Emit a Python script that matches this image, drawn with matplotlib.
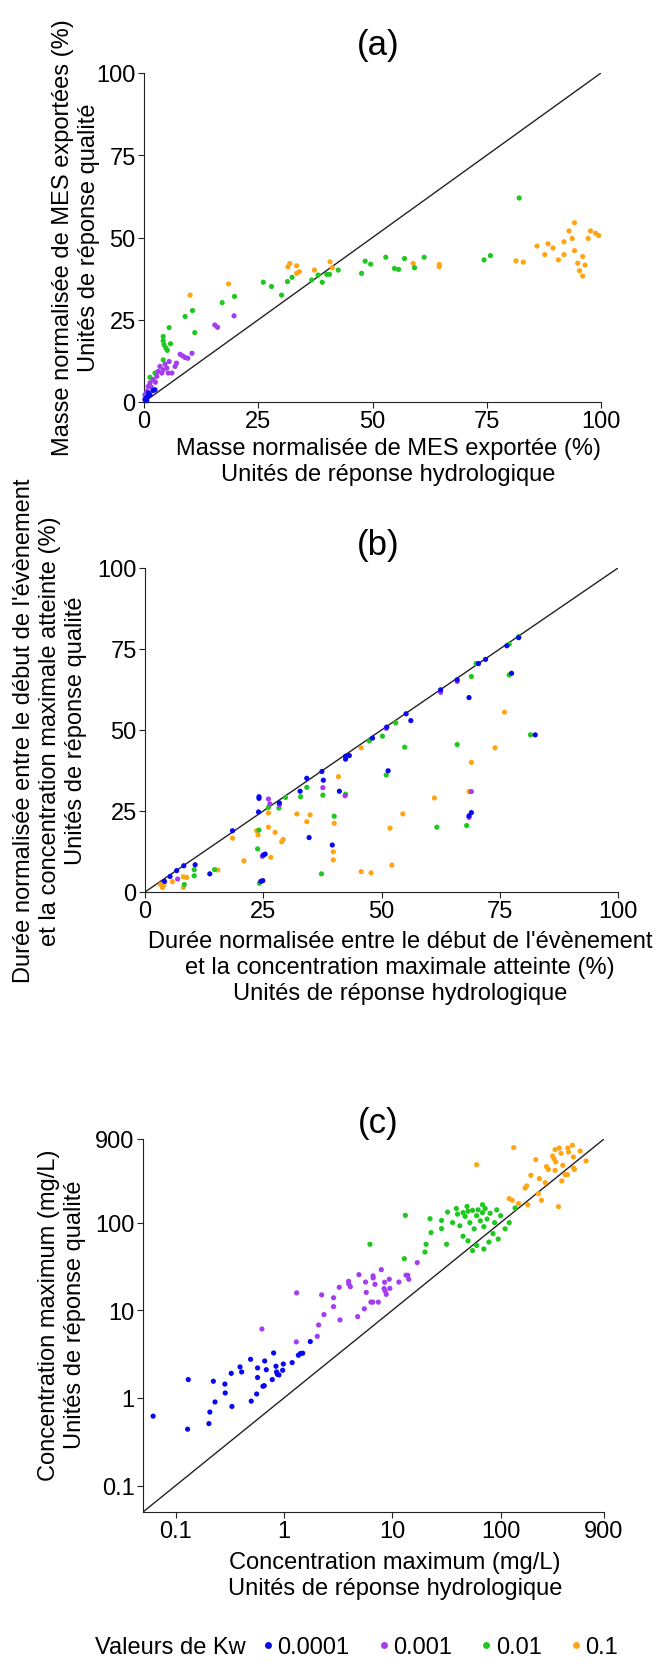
import numpy as np
import matplotlib
matplotlib.use("Agg")
import matplotlib.pyplot as plt
from matplotlib.lines import Line2D

plt.rcParams['font.family'] = ['Liberation Sans', 'DejaVu Sans']

# colours of the Kw classes
kw_labels = ['0.0001', '0.001', '0.01', '0.1']
kw_colors = ['#0808f0', '#a43cf0', '#1ec81e', '#ffa514']

# ---- panel (a): normalised exported mass (%)
a_blue_x = [0.2, 0.4, 0.9, 1.3, 2.0, 2.4, 0.6, 1.0]
a_blue_y = [0.7, 1.2, 1.7, 2.2, 3.5, 3.7, 0.4, 2.8]
a_purple_x = [0.2, 0.6, 0.9, 1.3, 2.0, 2.8, 3.1, 3.5, 3.9, 4.2, 4.6, 5.0, 5.3, 5.5,
              6.1, 6.8, 7.1, 7.9, 8.5, 9.0, 9.6, 10.5, 15.5, 16.1, 19.7, 1.6, 2.5]
a_purple_y = [2.2, 3.2, 4.7, 5.8, 6.8, 7.8, 9.3, 10.8, 8.8, 9.8, 11.5, 10.3, 8.8, 12.3,
              8.8, 10.8, 11.8, 14.5, 14.0, 13.5, 13.3, 14.8, 23.4, 22.7, 26.2, 4.5, 6.0]
a_green_x = [1.3, 2.4, 4.2, 4.2, 4.2, 4.4, 4.8, 5.1, 5.5, 5.8, 9.0, 10.6, 11.1, 17.1,
             19.8, 26.1, 27.9, 30.1, 31.4, 32.4, 36.7, 38.1, 39.0, 40.0, 40.6, 42.5,
             47.6, 48.4, 49.6, 52.9, 54.8, 55.7, 57.0, 59.2, 61.3, 74.4, 75.8, 82.1]
a_green_y = [7.5, 8.8, 12.8, 19.9, 18.6, 17.4, 16.4, 15.7, 22.6, 17.7, 26.0, 27.8, 21.1, 30.2,
             32.1, 36.4, 35.1, 32.5, 36.6, 37.9, 37.1, 38.6, 36.4, 38.8, 38.8, 40.1,
             39.1, 42.8, 41.9, 44.0, 40.6, 40.3, 43.6, 40.8, 44.0, 43.2, 44.5, 62.0]
a_orange_x = [10.1, 18.5, 31.5, 31.9, 33.4, 33.4, 34.0, 37.3, 40.7, 41.2, 58.9, 64.6, 64.6,
              81.4, 83.0, 86.0, 87.7, 88.4, 89.5, 90.7, 91.9, 91.9, 93.0, 93.7, 94.2, 94.2,
              94.9, 95.3, 96.0, 96.0, 96.5, 97.2, 97.7, 98.8, 99.5]
a_orange_y = [32.5, 35.9, 41.1, 42.1, 41.4, 39.1, 39.6, 40.1, 42.6, 40.8, 42.1, 41.8, 41.1,
              42.9, 42.5, 47.4, 44.8, 48.1, 46.8, 43.2, 48.7, 44.8, 52.0, 49.7, 46.0, 54.5,
              42.2, 39.9, 38.3, 44.2, 41.6, 49.7, 52.0, 51.3, 50.6]

# ---- panel (b): normalised time to peak concentration (%)
b_blue_x = [4.1, 5.3, 6.7, 8.2, 10.6, 13.7, 18.5, 24.0, 24.1, 24.1, 28.4, 32.8, 34.2, 34.7,
            37.4, 37.7, 39.6, 41.1, 42.4, 42.4, 43.2, 48.1, 51.1, 51.4, 55.2, 56.2, 62.5,
            24.5, 24.9, 25.4, 25.0, 66.0, 70.5, 72.0, 76.5, 79.0, 77.5, 82.5, 68.5, 68.5, 69.0]
b_blue_y = [3.3, 4.8, 6.6, 8.1, 8.4, 5.6, 18.9, 24.7, 29.4, 28.9, 27.5, 31.1, 35.1, 16.8,
            37.2, 34.5, 14.5, 31.1, 41.0, 41.9, 42.1, 47.5, 50.9, 37.4, 55.0, 52.9, 62.4,
            3.3, 3.5, 11.7, 11.4, 65.5, 70.5, 71.8, 76.0, 78.5, 67.5, 48.5, 60.0, 23.5, 24.5]
b_purple_x = [6.9, 26.1, 26.4, 28.4, 37.6, 42.3, 51.0, 62.5, 24.8, 66.0, 69.0, 68.5]
b_purple_y = [4.0, 28.7, 27.2, 26.9, 32.2, 29.7, 50.5, 61.6, 11.0, 65.0, 31.0, 23.0]
b_green_x = [8.3, 10.4, 10.4, 14.7, 23.8, 24.2, 24.1, 26.1, 28.3, 29.7, 32.9, 34.2, 37.3,
             37.6, 40.0, 42.4, 47.4, 50.2, 51.0, 53.0, 54.9, 61.7, 70.0, 77.0, 77.0, 69.0,
             66.0, 81.5, 68.0, 79.0]
b_green_y = [2.3, 6.9, 5.0, 6.9, 13.3, 2.7, 19.1, 26.1, 25.9, 29.2, 29.4, 32.3, 5.6,
             29.9, 23.4, 30.2, 46.6, 48.1, 36.1, 52.2, 44.7, 20.0, 70.5, 76.5, 67.0, 66.5,
             45.5, 48.5, 20.5, 78.8]
b_orange_x = [3.3, 3.7, 3.9, 4.2, 5.8, 8.1, 8.8, 8.1, 15.4, 18.5, 20.9, 23.6, 23.9, 26.1,
              26.1, 26.6, 27.5, 28.9, 29.2, 32.1, 34.2, 34.9, 39.8, 39.8, 40.0, 40.9, 45.7,
              45.7, 47.8, 51.8, 52.2, 54.5, 61.2, 76.0, 69.0, 74.0, 68.5]
b_orange_y = [2.3, 1.4, 2.0, 3.0, 3.2, 4.7, 4.5, 1.4, 6.8, 16.6, 9.6, 18.9, 17.6, 24.4,
              20.0, 10.7, 18.4, 15.5, 16.2, 24.1, 21.7, 23.8, 12.4, 9.9, 21.2, 35.6, 44.5,
              6.3, 5.9, 19.7, 8.3, 24.1, 29.0, 55.5, 40.0, 44.5, 31.0]

# ---- panel (c): maximum concentration (mg/L)
c_blue_x = [0.062, 0.131, 0.129, 0.203, 0.207, 0.231, 0.223, 0.285, 0.287, 0.326, 0.331,
            0.393, 0.407, 0.492, 0.499, 0.56, 0.571, 0.571, 0.64, 0.658, 0.664, 0.687,
            0.78, 0.803, 0.844, 0.855, 0.87, 0.9, 0.973, 0.986, 1.19, 1.36, 1.42, 1.49, 1.75]
c_blue_y = [0.62, 1.62, 0.44, 0.51, 0.69, 0.90, 1.55, 1.44, 1.14, 1.91, 0.80,
            2.26, 1.98, 2.76, 0.92, 1.11, 2.20, 1.71, 1.36, 1.38, 2.64, 2.10,
            1.62, 3.26, 2.30, 1.98, 1.86, 1.83, 2.07, 2.44, 2.53, 3.07, 3.21, 3.24, 4.40]
c_purple_x = [0.626, 1.31, 1.30, 2.03, 2.09, 2.23, 2.34, 2.87, 2.87, 3.24, 3.29, 3.95, 3.97,
              4.1, 4.79, 4.92, 5.52, 5.67, 5.75, 6.35, 6.6, 6.64, 6.66, 6.92, 7.43, 7.92,
              8.49, 8.4, 8.6, 8.8, 9.38, 9.5, 11.5, 13.4, 13.9, 14.2, 17.0]
c_purple_y = [6.12, 15.8, 4.36, 5.05, 6.80, 15.0, 8.93, 13.9, 11.0, 18.3, 7.76, 21.4, 20.0,
              18.6, 8.47, 25.5, 10.4, 21.0, 16.0, 12.4, 12.4, 24.7, 23.4, 19.8, 12.4, 29.1,
              20.9, 17.7, 16.6, 15.2, 22.6, 17.8, 21.0, 25.1, 25.1, 22.6, 35.0]
c_green_x = [6.22, 12.9, 13.2, 20.0, 20.5, 22.3, 22.8, 28.5, 28.5, 31.7, 32.4, 49, 68, 136, 39,
             36, 40, 42, 45, 47, 50, 52, 55, 57, 60, 62, 65, 68, 70, 72, 75, 78, 80, 85, 88,
             92, 95, 100, 110, 60, 55, 50, 70, 45, 120]
c_green_y = [56.6, 38.8, 121, 46.2, 56.6, 111, 77, 106, 85.5, 56.6, 132, 153, 160, 147, 145,
             100, 125, 92, 130, 118, 135, 100, 138, 85, 120, 140, 105, 130, 90, 145, 110, 60,
             128, 75, 100, 140, 65, 120, 85, 55, 48, 62, 50, 70, 100]
c_orange_x = [60.1, 132, 211, 318, 347, 417, 460, 423, 542, 361, 302, 311, 323, 470, 375, 265,
              276, 318, 470, 480, 615, 394, 414, 190, 228, 258, 367, 174, 168, 223, 120, 128,
              238, 146, 178, 342]
c_orange_y = [459, 718, 523, 681, 711, 711, 762, 640, 656, 618, 575, 537, 493, 561, 451, 435,
              405, 395, 421, 405, 505, 353, 353, 347, 318, 286, 299, 262, 248, 214, 188, 180,
              180, 165, 160, 152]

W, H = 665, 1674
FS = 17
fig = plt.figure(figsize=(W / 100, H / 100), dpi=100)


def px_axes(left, right, top, bottom):
    return fig.add_axes([left / W, 1 - bottom / H, (right - left) / W, (bottom - top) / H])


def style(ax):
    for s in ['top', 'right']:
        ax.spines[s].set_visible(False)
    for s in ['left', 'bottom']:
        ax.spines[s].set_linewidth(0.8)
        ax.spines[s].set_color('#222222')
    ax.tick_params(direction='out', length=4, width=0.8, labelsize=FS, pad=2, colors='#222222',
                   labelcolor='black')
    ax.minorticks_off()


def dots(ax, xs, ys):
    # orange first, blue on top
    for (x, y), c in reversed(list(zip(zip(xs, ys), kw_colors))):
        ax.scatter(x, y, s=14, color=c, edgecolors='none', zorder=3, clip_on=False)


ax_a = px_axes(144, 601, 74, 403)
ax_b = px_axes(145, 618, 569, 893)
ax_c = px_axes(143, 604, 1140, 1513)

lin_ticks = [0, 25, 50, 75, 100]
for ax in (ax_a, ax_b):
    ax.plot([0, 100], [0, 100], color='#222222', lw=1, zorder=2)
    ax.set_xlim(0, 100)
    ax.set_ylim(0, 100)
    ax.set_xticks(lin_ticks)
    ax.set_yticks(lin_ticks)
    style(ax)

dots(ax_a, [a_blue_x, a_purple_x, a_green_x, a_orange_x], [a_blue_y, a_purple_y, a_green_y, a_orange_y])
dots(ax_b, [b_blue_x, b_purple_x, b_green_x, b_orange_x], [b_blue_y, b_purple_y, b_green_y, b_orange_y])

log_ticks = [0.1, 1, 10, 100, 900]
log_labels = ['0.1', '1', '10', '100', '900']
ax_c.plot([0.05, 900], [0.05, 900], color='#222222', lw=1, zorder=2)
ax_c.set_xscale('log')
ax_c.set_yscale('log')
ax_c.set_xlim(0.05, 900)
ax_c.set_ylim(0.05, 900)
ax_c.set_xticks(log_ticks)
ax_c.set_xticklabels(log_labels)
ax_c.set_yticks(log_ticks)
ax_c.set_yticklabels(log_labels)
style(ax_c)
dots(ax_c, [c_blue_x, c_purple_x, c_green_x, c_orange_x], [c_blue_y, c_purple_y, c_green_y, c_orange_y])


def ftext(x, y, s, **kw):
    fig.text(x / W, 1 - y / H, s, ha='center', va='center', fontsize=FS,
             multialignment='center', linespacing=1.25, **kw)


# panel titles
for y, t in [(45, '(a)'), (545, '(b)'), (1124, '(c)')]:
    fig.text(378 / W, 1 - y / H, t, ha='center', va='center', fontsize=25)

# axis labels
ftext(388, 462, "Masse normalisée de MES exportée (%)\nUnités de réponse hydrologique")
ftext(76, 238, "Masse normalisée de MES exportées (%)\nUnités de réponse qualité", rotation=90)

ftext(400, 968, "Durée normalisée entre le début de l'évènement\n"
                "et la concentration maximale atteinte (%)\nUnités de réponse hydrologique")
ftext(50, 731, "Durée normalisée entre le début de l'évènement\n"
               "et la concentration maximale atteinte (%)\nUnités de réponse qualité", rotation=90)

ftext(395, 1576, "Concentration maximum (mg/L)\nUnités de réponse hydrologique")
ftext(62, 1315, "Concentration maximum (mg/L)\nUnités de réponse qualité", rotation=90)

# legend
fig.text(95 / W, 1 - 1648 / H, 'Valeurs de Kw', ha='left', va='center', fontsize=FS)
handles = [Line2D([], [], marker='o', ls='', color=c, markersize=5, markeredgewidth=0)
           for c in kw_colors]
fig.legend(handles, kw_labels, loc='center left', bbox_to_anchor=(262 / W, 1 - 1648 / H),
           ncol=4, frameon=False, fontsize=FS, handlelength=0.5, handletextpad=0.15,
           columnspacing=1.2, borderpad=0, borderaxespad=0)

fig.savefig('out.png', dpi=100)
